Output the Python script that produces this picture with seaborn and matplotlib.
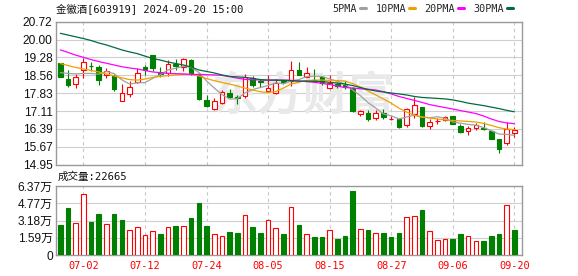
import matplotlib
matplotlib.use('Agg')
import matplotlib.pyplot as plt
import seaborn as sns
import numpy as np
from matplotlib.lines import Line2D

# ---------------- data ----------------
title = '金徽酒[603919] 2024-09-20 15:00'
vol_label = '成交量:22665'
dates = ['06-27', '06-28', '07-01', '07-02', '07-03', '07-04', '07-05', '07-08', '07-09', '07-10',
         '07-11', '07-12', '07-15', '07-16', '07-17', '07-18', '07-19', '07-22', '07-23', '07-24',
         '07-25', '07-26', '07-29', '07-30', '07-31', '08-01', '08-02', '08-05', '08-06', '08-07',
         '08-08', '08-09', '08-12', '08-13', '08-14', '08-15', '08-16', '08-19', '08-20', '08-21',
         '08-22', '08-23', '08-26', '08-27', '08-28', '08-29', '08-30', '09-02', '09-03', '09-04',
         '09-05', '09-06', '09-09', '09-10', '09-11', '09-12', '09-13', '09-18', '09-19', '09-20']
date_ticks = ['07-02', '07-12', '07-24', '08-05', '08-15', '08-27', '09-06', '09-20']

opens = [19.04, 18.41, 18.19, 18.77, 18.95, 18.89, 18.57, 18.53, 17.53, 17.78,
         18.30, 18.88, 19.37, 18.70, 18.63, 19.03, 18.90, 19.17, 18.61, 17.56,
         17.21, 17.42, 17.85, 17.68, 17.72, 18.43, 18.32, 17.94, 17.84, 18.32,
         18.32, 18.77, 18.50, 18.38, 18.50, 18.03, 18.20, 18.16, 18.04, 16.99,
         17.02, 16.82, 17.02, 16.79, 16.78, 16.53, 17.00, 17.27, 16.49, 16.69,
         16.74, 16.89, 16.51, 16.29, 16.42, 16.42, 16.30, 15.98, 15.81, 16.21]
highs = [19.07, 18.77, 18.61, 19.24, 19.10, 18.99, 18.84, 18.61, 18.20, 18.32,
         18.84, 18.97, 19.38, 18.87, 19.17, 19.21, 19.24, 19.20, 18.65, 17.76,
         17.62, 17.98, 17.99, 17.76, 18.61, 18.53, 18.40, 18.57, 18.40, 18.38,
         19.13, 19.10, 18.88, 18.81, 18.52, 18.55, 18.30, 18.31, 18.08, 17.15,
         17.15, 17.17, 17.21, 16.90, 16.82, 17.22, 17.68, 17.29, 16.79, 16.82,
         16.91, 16.91, 16.57, 16.49, 16.63, 16.65, 16.32, 16.00, 16.68, 16.46]
lows = [18.49, 18.09, 18.03, 18.43, 18.71, 18.16, 18.46, 17.92, 17.50, 17.68,
        18.24, 18.57, 18.73, 18.49, 18.53, 18.77, 18.74, 18.57, 17.56, 17.27,
        17.15, 17.39, 17.62, 17.39, 17.64, 18.08, 18.08, 17.89, 17.80, 18.20,
        18.12, 18.57, 18.47, 18.32, 18.16, 18.00, 18.04, 18.00, 17.08, 16.91,
        16.71, 16.75, 16.79, 16.74, 16.42, 16.47, 16.83, 16.47, 16.38, 16.59,
        16.69, 16.57, 16.21, 16.14, 16.34, 16.34, 15.98, 15.43, 15.73, 16.06]
closes = [18.50, 18.16, 18.47, 19.08, 18.93, 18.36, 18.73, 18.00, 17.83, 18.07,
          18.63, 18.77, 18.85, 18.59, 19.03, 18.95, 19.20, 18.61, 17.58, 17.33,
          17.50, 17.88, 17.68, 17.65, 18.49, 18.18, 18.30, 18.06, 18.23, 18.28,
          18.77, 18.57, 18.63, 18.36, 18.24, 18.23, 18.11, 18.08, 17.13, 17.11,
          16.80, 17.03, 16.86, 16.80, 16.48, 17.19, 17.36, 16.49, 16.66, 16.71,
          16.88, 16.60, 16.25, 16.43, 16.53, 16.39, 15.99, 15.56, 16.37, 16.34]

ma5 = [18.66, 18.63, 18.61, 18.63, 18.63, 18.60, 18.71, 18.62, 18.37, 18.20,
       18.25, 18.26, 18.43, 18.58, 18.77, 18.84, 18.92, 18.88, 18.67, 18.33,
       18.04, 17.78, 17.59, 17.61, 17.84, 17.98, 18.06, 18.14, 18.25, 18.21,
       18.33, 18.38, 18.50, 18.52, 18.51, 18.41, 18.31, 18.20, 17.96, 17.73,
       17.45, 17.23, 16.99, 16.92, 16.79, 16.87, 16.94, 16.86, 16.84, 16.88,
       16.82, 16.67, 16.62, 16.57, 16.54, 16.44, 16.32, 16.18, 16.17, 16.13]
ma10 = [19.03, 18.95, 18.87, 18.81, 18.75, 18.69, 18.61, 18.53, 18.45, 18.38,
        18.36, 18.40, 18.47, 18.51, 18.54, 18.57, 18.59, 18.59, 18.53, 18.42,
        18.34, 18.26, 18.20, 18.12, 18.04, 17.96, 17.89, 17.86, 17.90, 18.04,
        18.20, 18.28, 18.34, 18.36, 18.36, 18.35, 18.34, 18.32, 18.22, 18.08,
        17.92, 17.76, 17.60, 17.43, 17.23, 17.07, 16.95, 16.87, 16.83, 16.79,
        16.75, 16.73, 16.71, 16.69, 16.67, 16.61, 16.53, 16.44, 16.38, 16.36]
ma20 = [19.58, 19.48, 19.37, 19.28, 19.19, 19.11, 19.04, 18.97, 18.90, 18.85,
        18.81, 18.75, 18.69, 18.66, 18.63, 18.62, 18.61, 18.59, 18.59, 18.58,
        18.57, 18.55, 18.50, 18.44, 18.39, 18.38, 18.36, 18.36, 18.36, 18.36,
        18.35, 18.32, 18.30, 18.27, 18.23, 18.18, 18.12, 18.06, 18.04, 18.01,
        17.99, 17.96, 17.89, 17.80, 17.70, 17.62, 17.54, 17.46, 17.37, 17.31,
        17.25, 17.19, 17.13, 17.07, 17.01, 16.91, 16.79, 16.69, 16.63, 16.60]
ma30 = [20.25, 20.18, 20.11, 20.04, 19.96, 19.86, 19.78, 19.68, 19.58, 19.50,
        19.43, 19.33, 19.23, 19.17, 19.09, 19.03, 18.97, 18.89, 18.77, 18.71,
        18.65, 18.57, 18.51, 18.49, 18.47, 18.43, 18.38, 18.36, 18.36, 18.35,
        18.34, 18.32, 18.32, 18.31, 18.30, 18.27, 18.24, 18.20, 18.14, 18.06,
        17.98, 17.92, 17.88, 17.84, 17.80, 17.76, 17.70, 17.66, 17.64, 17.62,
        17.60, 17.56, 17.50, 17.43, 17.38, 17.33, 17.27, 17.21, 17.14, 17.08]

volumes = [27700, 43400, 29500, 56300, 30500, 37800, 28600, 37800, 32300, 22800,
           25600, 18200, 21900, 19400, 25600, 26800, 26500, 34200, 48000, 26800,
           19100, 17300, 21200, 20300, 36600, 25800, 20300, 32000, 24600, 19400,
           44000, 27700, 19400, 16600, 16600, 22800, 14800, 17500, 59100, 23700,
           23100, 20300, 20300, 16600, 20600, 34800, 35700, 41500, 21900, 13600,
           14500, 14800, 19400, 17300, 12900, 12900, 17500, 19400, 46200, 22665]
vol_up = [0, 0, 1, 1, 0, 0, 1, 0, 0, 1,
          1, 1, 1, 0, 1, 0, 1, 0, 0, 0,
          1, 1, 0, 0, 1, 0, 0, 1, 1, 0,
          1, 0, 1, 0, 0, 1, 0, 0, 0, 1,
          0, 1, 0, 0, 0, 1, 1, 0, 1, 1,
          1, 0, 0, 1, 1, 0, 0, 0, 1, 0]

price_ticks = [14.95, 15.67, 16.39, 17.11, 17.83, 18.56, 19.28, 20.00, 20.72]
vol_ticks = [0, 15925, 31850, 47775, 63700]
vol_tick_labels = ['0', '1.59万', '3.18万', '4.77万', '6.37万']
legend_labels = ['5PMA', '10PMA', '20PMA', '30PMA']
ma_colors = ['#a0a0a0', '#f0a000', '#ff00ff', '#006b3c']

RED = '#ff0000'
GREEN = '#008000'
SPINE = '#9a9a9a'
GRID = '#cfcfcf'

# ---------------- figure ----------------
sns.set_style('white')
plt.rcParams['font.family'] = ['DejaVu Sans', 'Noto Sans CJK SC']
W, H = 578, 276
fig = plt.figure(figsize=(W / 100, H / 100), dpi=100)


def fy(py):
    return 1 - py / H


axp = fig.add_axes([56 / W, fy(164.5), 466 / W, (164.5 - 21.7) / H])
axv = fig.add_axes([56 / W, fy(255), 466 / W, (255 - 186) / H])

x = np.arange(len(dates))
o = np.array(opens)
c = np.array(closes)
up = c >= o
ccols = np.where(up, RED, GREEN)
faces = np.where(up, 'white', GREEN)
body_bottom = np.minimum(o, c)
body_h = np.maximum(np.abs(c - o), 0.01)

# watermark
axp.text(31.5, 17.68, '东方财富', fontsize=33, fontweight='bold', color='#e9e9e9',
         family=['Noto Sans CJK SC'], ha='center', va='center', zorder=0.6)

axp.vlines(x, lows, highs, colors=ccols, lw=0.8, zorder=3)
axp.bar(x, body_h, bottom=body_bottom, width=0.6, color=faces, edgecolor=ccols,
        linewidth=0.8, zorder=4)

for vals, col in zip([ma5, ma10, ma20, ma30], ma_colors):
    sns.lineplot(x=x, y=vals, ax=axp, color=col, lw=0.9, zorder=5, legend=False)

vup = np.array(vol_up).astype(bool)
axv.bar(x, volumes, width=0.6, color=np.where(vup, 'white', GREEN),
        edgecolor=np.where(vup, RED, GREEN), linewidth=0.8, zorder=3)

tick_pos = [dates.index(d) for d in date_ticks]
for ax in (axp, axv):
    ax.set_xlim(-0.56, 60.0)
    ax.set_xticks(tick_pos)
    ax.set_axisbelow(True)
    ax.grid(axis='x', color='#c8c8c8', linestyle=(0, (3, 3)), lw=0.8)
    ax.grid(axis='y', color=GRID, linestyle='-', lw=0.8)
    for s in ax.spines.values():
        s.set_color(SPINE)
        s.set_linewidth(1.0)
        s.set_visible(True)
    ax.tick_params(length=0)
    ax.set_xlabel('')
    ax.set_ylabel('')

axp.set_ylim(price_ticks[0], price_ticks[-1])
axp.set_yticks(price_ticks)
axp.set_yticklabels(['%.2f' % v for v in price_ticks],
                    family=['Liberation Sans'], fontsize=8.6, color='#111111')
axp.tick_params(axis='y', pad=2.4)
axp.tick_params(axis='x', labelbottom=False)

axv.set_ylim(0, vol_ticks[-1])
axv.set_yticks(vol_ticks)
axv.set_yticklabels(vol_tick_labels, family=['Liberation Sans', 'Noto Sans CJK SC'],
                    fontsize=8.6, color='#111111')
axv.tick_params(axis='y', pad=2.4)
axv.set_xticklabels(date_ticks, family=['DejaVu Sans Mono'], fontsize=7.4, color=RED)
axv.tick_params(axis='x', pad=4.0)

fig.text(56 / W, fy(9), title, family=['DejaVu Sans Mono', 'Noto Sans CJK SC'],
         fontsize=7.5, va='center', ha='left', color='#111111')
fig.text(58 / W, fy(177), vol_label, family=['DejaVu Sans Mono', 'Noto Sans CJK SC'],
         fontsize=7.6, va='center', ha='left', color='#111111')

handles = [Line2D([0], [0], color=col, lw=2.2) for col in ma_colors]
fig.legend(handles, legend_labels, loc='center right', bbox_to_anchor=(513 / W, fy(8.5)),
           ncol=4, frameon=False, markerfirst=False, handlelength=0.6, handletextpad=0.3,
           columnspacing=0.9, borderpad=0, borderaxespad=0,
           prop={'family': 'DejaVu Sans Mono', 'size': 7.3})

fig.savefig('out.png', dpi=100)
